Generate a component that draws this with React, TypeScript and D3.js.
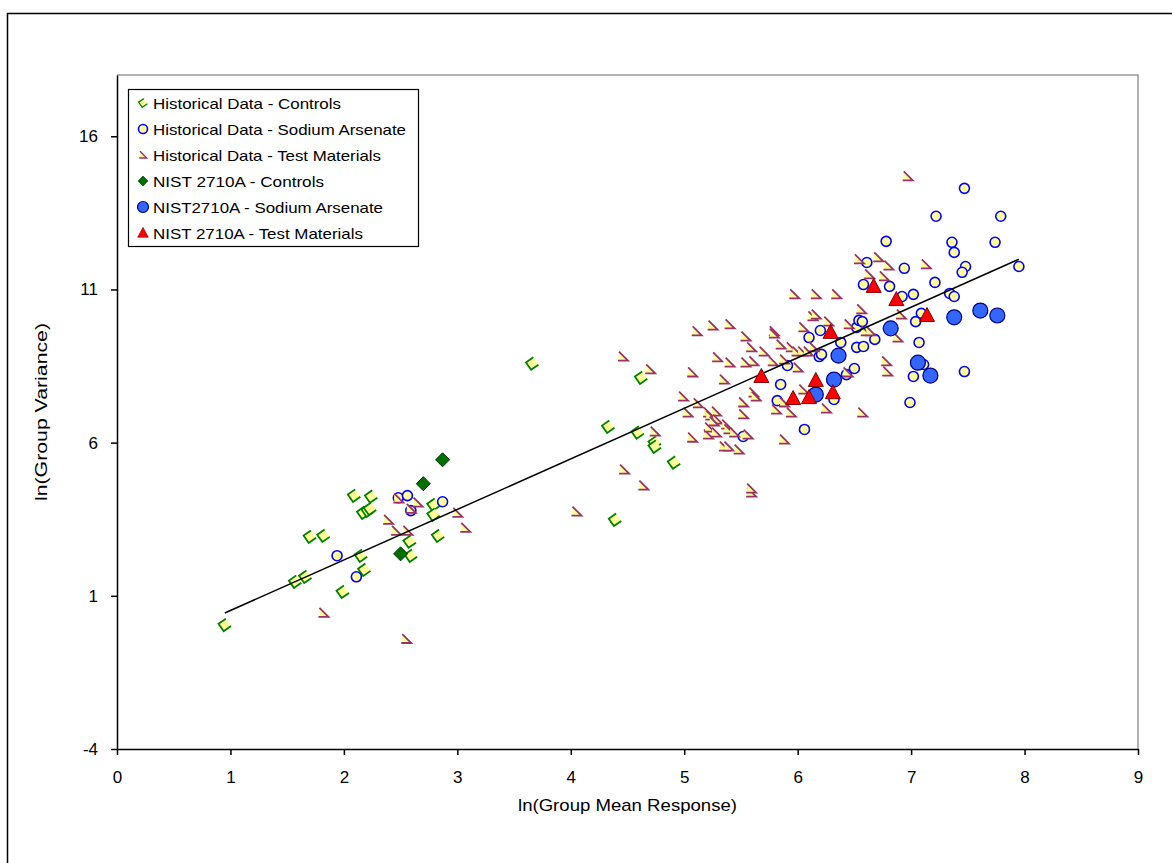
import React, { useEffect, useRef } from 'react';
import * as d3 from 'd3';

type Pt = [number, number];

// Historical Data - Controls  [ln(mean), ln(variance)]
const histControls: Pt[] = [
  [0.95, 0.05], [1.57, 1.46], [1.66, 1.62], [1.70, 2.93], [1.82, 2.96],
  [1.99, 1.13], [2.09, 4.27], [2.24, 4.24], [2.17, 3.71], [2.21, 3.78],
  [2.23, 3.84], [2.15, 2.31], [2.18, 1.85], [2.58, 2.77], [2.59, 2.31],
  [2.79, 3.97], [2.79, 3.65], [2.83, 2.96], [3.66, 8.58], [4.62, 8.12],
  [4.33, 6.52], [4.59, 6.33], [4.74, 6.0], [4.74, 5.87], [4.91, 5.35],
  [4.39, 3.48],
];

// Historical Data - Sodium Arsenate
const histArsenate: Pt[] = [
  [1.94, 2.31], [2.11, 1.62], [2.48, 4.20], [2.56, 4.27], [2.59, 3.78],
  [2.87, 4.07], [5.52, 6.20], [5.82, 7.37], [5.85, 7.90], [6.06, 6.43],
  [5.91, 8.52], [6.10, 9.43], [6.20, 9.66], [6.19, 8.81], [6.21, 8.88],
  [6.38, 9.27], [6.43, 8.22], [6.50, 8.42], [6.52, 9.76], [6.52, 9.11],
  [6.32, 7.41], [6.58, 9.14], [6.54, 9.99], [7.47, 14.30], [7.22, 13.39],
  [7.79, 13.39], [6.78, 12.57], [7.36, 12.54], [7.38, 12.21], [7.74, 12.54],
  [6.61, 11.88], [6.94, 11.69], [7.48, 11.75], [7.45, 11.56], [7.95, 11.75],
  [7.21, 11.23], [6.58, 11.16], [6.81, 11.10], [6.92, 10.77], [7.02, 10.84],
  [7.34, 10.87], [7.38, 10.77], [7.09, 10.22], [7.04, 9.95], [6.57, 9.95],
  [6.68, 9.37], [7.07, 9.27], [7.11, 8.55], [7.02, 8.16], [7.47, 8.32],
  [6.99, 7.31],
];

// Historical Data - Test Materials
const histTest: Pt[] = [
  [2.39, 3.48], [2.46, 3.12], [2.56, 3.12], [2.48, 4.17], [2.65, 4.04],
  [2.59, 3.84], [3.00, 3.71], [3.07, 3.22], [1.82, 0.44], [2.55, -0.41],
  [4.05, 3.75],
  [5.11, 9.63], [5.25, 9.82], [5.40, 9.86], [4.46, 8.81], [5.29, 8.78],
  [5.40, 8.61], [4.70, 8.39], [5.07, 8.29], [5.35, 8.06], [4.99, 7.50],
  [5.12, 7.28], [5.03, 6.98], [5.21, 6.98], [5.23, 6.88], [5.28, 7.01],
  [5.29, 6.75], [5.26, 6.69], [4.74, 6.36], [5.07, 6.16], [5.21, 6.26],
  [5.22, 6.49], [5.28, 6.33], [5.37, 6.59], [5.39, 6.43], [5.44, 6.33],
  [5.35, 5.87], [5.39, 5.87], [5.48, 5.77], [4.47, 5.12], [4.64, 4.60],
  [5.59, 4.37], [5.59, 4.50],
  [6.97, 14.69], [6.71, 12.05], [6.54, 11.98], [6.80, 11.78], [7.13, 11.82],
  [6.76, 11.43], [6.63, 11.49], [5.97, 10.84], [6.16, 10.84], [6.34, 10.84],
  [6.13, 10.12], [6.16, 10.18], [6.27, 9.95], [6.56, 10.35], [5.79, 9.63],
  [5.79, 9.56], [6.05, 9.76], [6.45, 9.86], [6.60, 9.63], [6.64, 9.63],
  [6.88, 9.43], [6.91, 10.18], [5.54, 9.46], [5.59, 9.11], [5.70, 8.97],
  [5.85, 9.20], [5.94, 9.11], [5.99, 8.97], [6.04, 8.97], [6.09, 8.97],
  [6.14, 9.11], [5.61, 8.65], [5.54, 8.61], [5.78, 8.65], [5.88, 8.71],
  [6.00, 8.45], [6.44, 8.29], [6.78, 8.65], [6.79, 8.32], [5.52, 7.31],
  [5.61, 7.63], [5.63, 7.50], [5.88, 7.31], [6.05, 7.73], [5.94, 6.98],
  [6.25, 7.11], [6.57, 6.98], [5.81, 7.08], [5.88, 6.10], [5.52, 6.92],
  [5.56, 6.26],
];

// NIST 2710A series
const nistControls: Pt[] = [[2.87, 5.44], [2.70, 4.66], [2.50, 2.37]];

const nistArsenate: Pt[] = [
  [7.61, 10.31], [7.76, 10.15], [7.38, 10.09], [6.82, 9.73], [6.36, 8.84],
  [7.06, 8.61], [7.17, 8.19], [6.32, 8.06], [6.16, 7.57],
];

const nistTest: Pt[] = [
  [6.67, 11.10], [6.87, 10.67], [7.14, 10.15], [6.29, 9.60], [5.68, 8.16],
  [6.16, 8.03], [5.96, 7.44], [6.10, 7.47], [6.31, 7.63],
];

// linear trendline
const trendIntercept = -1.13;
const trendSlope = 1.65;

const xTicks = [0, 1, 2, 3, 4, 5, 6, 7, 8, 9];
const yTicks = [-4, 1, 6, 11, 16];

const legendLabels = [
  'Historical Data - Controls',
  'Historical Data - Sodium Arsenate',
  'Historical Data - Test Materials',
  'NIST 2710A  - Controls',
  'NIST2710A  - Sodium Arsenate',
  'NIST 2710A  - Test Materials',
];
const legendWidths = [188, 253, 228, 171, 230, 210];

const FONT = '"Liberation Sans", Arial, sans-serif';
const YELLOW = '#FFFF99';

const App = () => {
  const svgRef = useRef<SVGSVGElement>(null);

  useEffect(() => {
    const svg = d3.select(svgRef.current);
    svg.selectAll('*').remove();

    const left = 117, right = 1138, top = 75, bottom = 749;

    const x = d3.scaleLinear().domain([0, 9]).range([left, right]);
    const y = d3.scaleLinear().domain([-4, 18]).range([bottom, top]);

    // outer chart border
    svg.append('rect')
      .attr('x', 7.5).attr('y', 13.5)
      .attr('width', 1170).attr('height', 860)
      .attr('fill', 'white').attr('stroke', 'black').attr('stroke-width', 1.5);

    // plot area border (grey top/right)
    svg.append('path')
      .attr('d', `M${left},${top}H${right}V${bottom}`)
      .attr('fill', 'none').attr('stroke', '#999').attr('stroke-width', 1.5);

    // axes
    svg.append('g')
      .attr('transform', `translate(0,${bottom})`)
      .call(d3.axisBottom(x).tickValues(xTicks).tickSizeInner(6).tickSizeOuter(0).tickPadding(16).tickFormat(d => String(d)))
      .call(g => g.selectAll('text').attr('font-size', 17).attr('font-family', FONT).attr('fill', 'black'))
      .call(g => g.selectAll('path,line').attr('stroke', 'black').attr('stroke-width', 1.5));

    svg.append('g')
      .attr('transform', `translate(${left},0)`)
      .call(d3.axisLeft(y).tickValues(yTicks).tickSizeInner(6).tickSizeOuter(0).tickPadding(13).tickFormat(d => String(d)))
      .call(g => g.selectAll('text').attr('font-size', 17).attr('font-family', FONT).attr('fill', 'black'))
      .call(g => g.selectAll('path,line').attr('stroke', 'black').attr('stroke-width', 1.5));

    // axis titles
    svg.append('text')
      .attr('x', (left + right) / 2).attr('y', 811)
      .attr('text-anchor', 'middle')
      .attr('font-size', 17).attr('font-family', FONT)
      .attr('textLength', 219).attr('lengthAdjust', 'spacingAndGlyphs')
      .text('ln(Group Mean Response)');

    svg.append('text')
      .attr('transform', `translate(47,${(top + bottom) / 2}) rotate(-90)`)
      .attr('text-anchor', 'middle')
      .attr('font-size', 17).attr('font-family', FONT)
      .attr('textLength', 178).attr('lengthAdjust', 'spacingAndGlyphs')
      .text('ln(Group Variance)');

    // marker shapes
    const ctrlPath = 'M4.5,-4.5L-4.5,-4.5L-4.5,4.5L4.5,4.5';
    const ctrlFill = 'M4.5,-4.5L-4.5,-4.5L-4.5,4.5L4.5,4.5Z';
    const testFill = 'M-4,-5L5,4L-4,4Z';
    const testPath = 'M-4,-5L5,4L-5,4';
    const diamond = 'M0,-7L7,0L0,7L-7,0Z';
    const tri = 'M0,-8L7.5,6L-7.5,6Z';

    const drawCtrl = (g: any, px: number, py: number, s = 1) => {
      const m = g.append('g').attr('transform', `translate(${px},${py}) rotate(-35) scale(${s})`);
      m.append('path').attr('d', ctrlFill).attr('fill', YELLOW);
      m.append('path').attr('d', ctrlPath).attr('fill', 'none').attr('stroke', '#008000').attr('stroke-width', 1.8);
    };
    const drawArs = (g: any, px: number, py: number, r = 5) => {
      g.append('circle').attr('cx', px).attr('cy', py).attr('r', r)
        .attr('fill', YELLOW).attr('stroke', '#0000FF').attr('stroke-width', 1.6);
    };
    const drawTest = (g: any, px: number, py: number, s = 1) => {
      const m = g.append('g').attr('transform', `translate(${px},${py}) scale(${s})`);
      m.append('path').attr('d', testFill).attr('fill', YELLOW);
      m.append('path').attr('d', testPath).attr('fill', 'none').attr('stroke', '#993366').attr('stroke-width', 1.8);
    };
    const drawDiamond = (g: any, px: number, py: number, s = 1) => {
      g.append('path').attr('transform', `translate(${px},${py}) scale(${s})`).attr('d', diamond)
        .attr('fill', '#007000').attr('stroke', '#003300').attr('stroke-width', 1);
    };
    const drawNistArs = (g: any, px: number, py: number, r = 7.5) => {
      g.append('circle').attr('cx', px).attr('cy', py).attr('r', r)
        .attr('fill', '#3366FF').attr('stroke', '#000080').attr('stroke-width', 1.2);
    };
    const drawTri = (g: any, px: number, py: number, s = 1) => {
      g.append('path').attr('transform', `translate(${px},${py}) scale(${s})`).attr('d', tri)
        .attr('fill', '#FF0000').attr('stroke', '#800000').attr('stroke-width', 1);
    };

    const plot = svg.append('g');
    histControls.forEach(d => drawCtrl(plot, x(d[0]), y(d[1])));
    histArsenate.forEach(d => drawArs(plot, x(d[0]), y(d[1])));
    histTest.forEach(d => drawTest(plot, x(d[0]), y(d[1])));

    // trendline across the data range
    const all = [...histControls, ...histArsenate, ...histTest, ...nistControls, ...nistArsenate, ...nistTest];
    const [xmin, xmax] = d3.extent(all, d => d[0]) as [number, number];
    const line = d3.line<number>().x(v => x(v)).y(v => y(trendIntercept + trendSlope * v));
    plot.append('path').datum([xmin, xmax]).attr('d', line)
      .attr('fill', 'none').attr('stroke', 'black').attr('stroke-width', 1.5);

    nistControls.forEach(d => drawDiamond(plot, x(d[0]), y(d[1])));
    nistArsenate.forEach(d => drawNistArs(plot, x(d[0]), y(d[1])));
    nistTest.forEach(d => drawTri(plot, x(d[0]), y(d[1])));

    // legend
    const lg = svg.append('g');
    lg.append('rect').attr('x', 128.5).attr('y', 89.5).attr('width', 290).attr('height', 157)
      .attr('fill', 'white').attr('stroke', 'black').attr('stroke-width', 1.2);
    const drawers = [
      (cy: number) => drawCtrl(lg, 143, cy, 0.7),
      (cy: number) => drawArs(lg, 143, cy, 4.5),
      (cy: number) => drawTest(lg, 143, cy, 0.75),
      (cy: number) => drawDiamond(lg, 143, cy, 0.7),
      (cy: number) => drawNistArs(lg, 143, cy, 5.5),
      (cy: number) => drawTri(lg, 143, cy, 0.7),
    ];
    legendLabels.forEach((label, i) => {
      const cy = 103 + i * 26;
      drawers[i](cy);
      lg.append('text')
        .attr('x', 153).attr('y', cy + 5.5)
        .attr('font-size', 15).attr('font-family', FONT)
        .attr('textLength', legendWidths[i]).attr('lengthAdjust', 'spacingAndGlyphs')
        .text(label);
    });
  }, []);

  return (
    <svg ref={svgRef} width={1172} height={863}
      style={{ position: 'absolute', left: 0, top: 0, background: 'white' }} />
  );
};

export default App;
